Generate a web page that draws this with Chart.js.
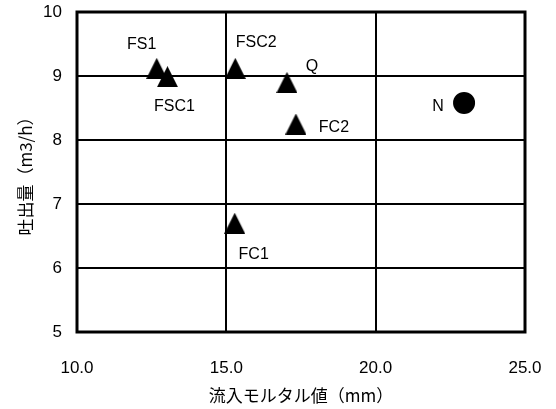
<!DOCTYPE html>
<html>
<head>
<meta charset="utf-8">
<script src="https://cdn.jsdelivr.net/npm/chart.js@4"></script>
<style>
  html, body { margin: 0; padding: 0; background: #fff; }
  #wrap { width: 556px; height: 409px; }
</style>
</head>
<body>
<div id="wrap"><canvas id="c" width="556" height="409"></canvas></div>
<script>
// ---- data ----
const triangleNames = ["FS1", "FSC1", "FSC2", "Q", "FC2", "FC1"];
const triangleX = [12.67, 13.03, 15.3, 17.03, 17.33, 15.28];
const triangleY = [9.12, 8.99, 9.12, 8.9, 8.25, 6.7];
const circleNames = ["N"];
const circleX = [22.96];
const circleY = [8.58];
const xTicks = [10, 15, 20, 25];
const yTicks = [5, 6, 7, 8, 9, 10];
const xTitle = "流入モルタル値（mm）";
const yTitle = "吐出量（m3/h）";

// label offsets (style, px)
const labelOffsets = {
  FS1: [-15, -24], FSC1: [7, 30], FSC2: [21, -26], Q: [25, -16],
  FC2: [38, 4], FC1: [19, 31], N: [-26, 4]
};

// custom triangle marker
function makeTriangle(w, h) {
  const cv = document.createElement('canvas');
  cv.width = w; cv.height = h;
  const g = cv.getContext('2d');
  g.fillStyle = '#000';
  g.beginPath();
  g.moveTo(w / 2, 0);
  g.lineTo(w, h);
  g.lineTo(0, h);
  g.closePath();
  g.fill();
  return cv;
}
const tri = makeTriangle(21, 21);

function noPad(s) {
  s.paddingLeft = 0; s.paddingRight = 0; s.paddingTop = 0; s.paddingBottom = 0;
}

const frame = {
  id: 'frame',
  afterDatasetsDraw(chart) {
    const { ctx, chartArea: a } = chart;
    ctx.save();
    ctx.strokeStyle = '#000';
    ctx.lineWidth = 3;
    ctx.strokeRect(a.left, a.top, a.right - a.left, a.bottom - a.top);
    ctx.restore();
  },
  afterDraw(chart) {
    const { ctx } = chart;
    ctx.save();
    ctx.fillStyle = '#000';
    ctx.font = '16px "Liberation Sans", Arial, sans-serif';
    ctx.textAlign = 'center';
    ctx.textBaseline = 'middle';
    chart.data.datasets.forEach((ds, i) => {
      const meta = chart.getDatasetMeta(i);
      meta.data.forEach((pt, j) => {
        const name = ds.names[j];
        const off = labelOffsets[name] || [0, 0];
        ctx.fillText(name, pt.x + off[0], pt.y + off[1]);
      });
    });
    ctx.restore();
  }
};

new Chart(document.getElementById('c'), {
  type: 'scatter',
  data: {
    datasets: [
      {
        names: triangleNames,
        data: triangleX.map((x, i) => ({ x, y: triangleY[i] })),
        pointStyle: tri,
        backgroundColor: '#000',
        borderColor: '#000'
      },
      {
        names: circleNames,
        data: circleX.map((x, i) => ({ x, y: circleY[i] })),
        pointStyle: 'circle',
        pointRadius: 11,
        borderWidth: 0,
        backgroundColor: '#000',
        borderColor: '#000'
      }
    ]
  },
  options: {
    responsive: false,
    animation: false,
    devicePixelRatio: 1,
    layout: { padding: { top: 12, right: 31, left: 15, bottom: 3 } },
    plugins: { legend: { display: false }, tooltip: { enabled: false } },
    scales: {
      x: {
        type: 'linear', min: 10, max: 25,
        afterBuildTicks: s => { s.ticks = xTicks.map(v => ({ value: v })); },
        afterFit: s => { s.height = 74; noPad(s); },
        ticks: {
          color: '#000', padding: 26,
          font: { family: '"Liberation Sans", Arial, sans-serif', size: 17 },
          callback: v => v.toFixed(1)
        },
        grid: { color: '#000', lineWidth: 2, drawTicks: false },
        border: { display: false },
        title: {
          display: true, text: xTitle, color: '#000',
          padding: { top: 0, bottom: 0 },
          font: { family: '"Noto Sans CJK JP", sans-serif', size: 17 }
        }
      },
      y: {
        type: 'linear', min: 5, max: 10,
        afterBuildTicks: s => { s.ticks = yTicks.map(v => ({ value: v })); },
        afterFit: s => { s.width = 62; noPad(s); },
        ticks: {
          color: '#000', padding: 15,
          font: { family: '"Liberation Sans", Arial, sans-serif', size: 17 }
        },
        grid: { color: '#000', lineWidth: 2, drawTicks: false },
        border: { display: false },
        title: {
          display: true, text: yTitle, color: '#000',
          padding: { top: 0, bottom: 0 },
          font: { family: '"Noto Sans CJK JP", sans-serif', size: 17 }
        }
      }
    }
  },
  plugins: [frame]
});
</script>
</body>
</html>
